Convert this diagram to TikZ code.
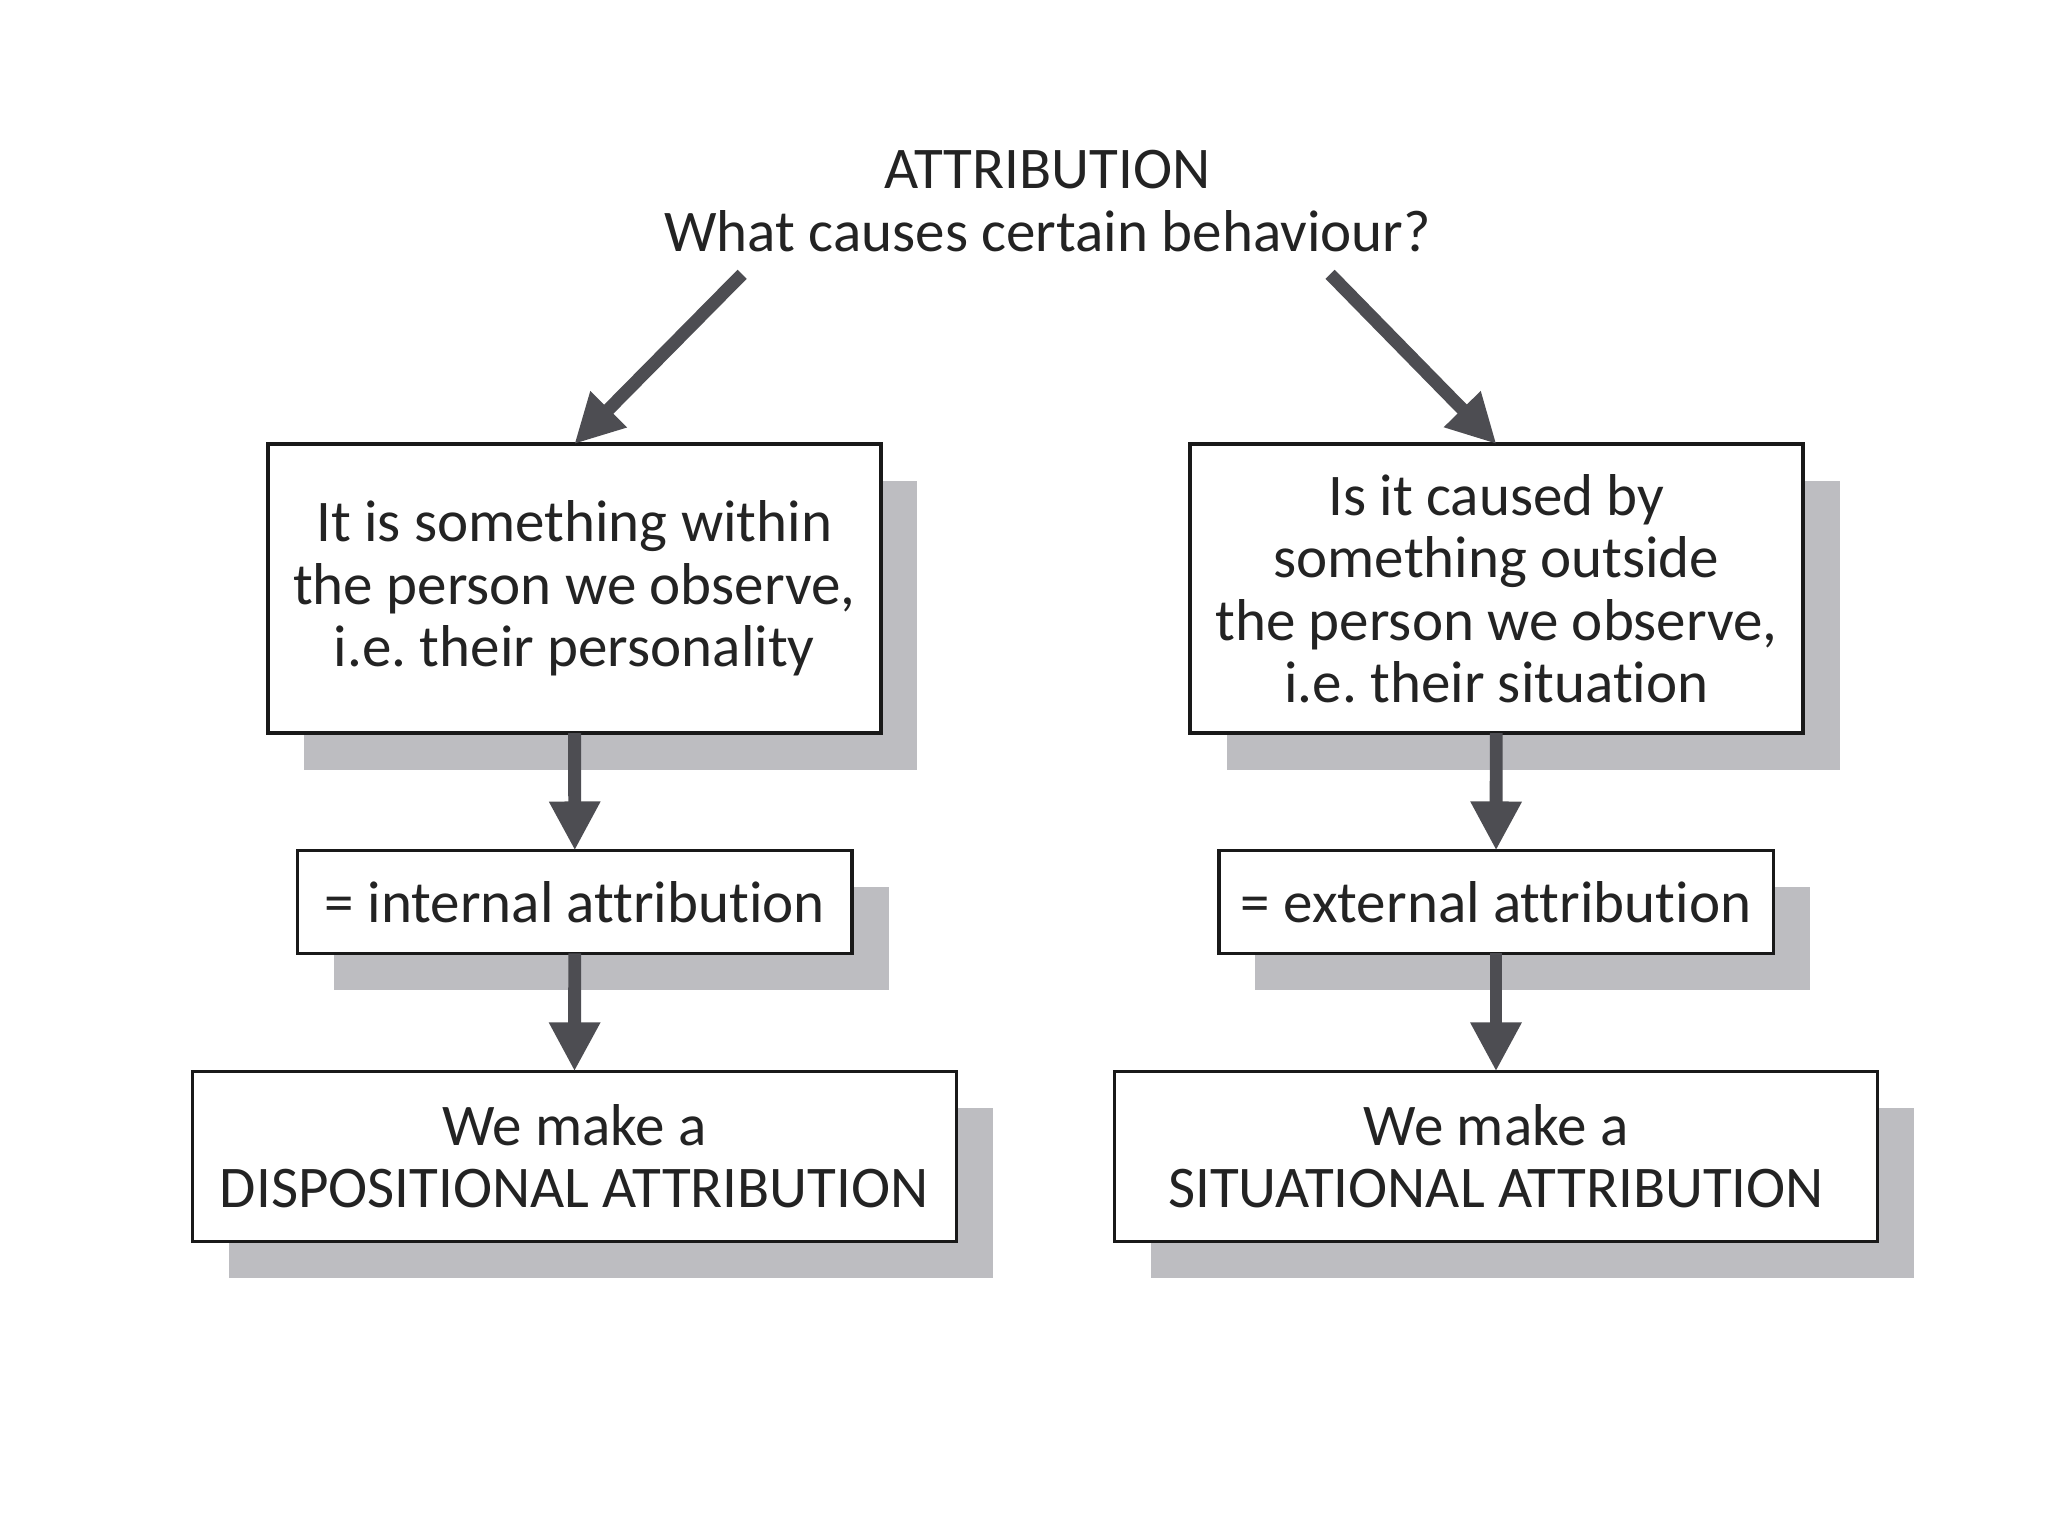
\documentclass[tikz,border=0pt]{standalone}
\usepackage{fontspec}
\setmainfont{Carlito}[Ligatures={NoCommon,NoRequired,NoContextual}]
\usetikzlibrary{arrows.meta,shadows}
\definecolor{shadowgray}{RGB}{189,189,193}
\definecolor{arrowgray}{RGB}{77,77,82}
\definecolor{textgray}{RGB}{35,35,35}
\frenchspacing
\begin{document}
\begin{tikzpicture}[
    >={Triangle[length=4.9mm, width=4.8mm]},
    every node/.style = {font=\fontsize{16.8}{17.8}\selectfont, text=textgray},
    box/.style = {draw=black!90, line width=1pt, fill=white, align=center,
              inner sep=0pt, outer sep=0pt,
              drop shadow={shadow xshift=0.366cm, shadow yshift=-0.366cm,
                           fill=shadowgray, opacity=1}},
    flow/.style = {->, arrowgray, line width=0.129cm},
    ]

\useasboundingbox[fill=white] (0,0) rectangle (20.48,15.36);

\node[align=center] (title) at (10.475,13.35)
    {ATTRIBUTION\\What causes certain behaviour?};
\coordinate (start_l) at (7.421,12.617);
\coordinate (start_r) at (13.301,12.617);

\node[box, minimum width=6.13cm, minimum height=2.89cm] (within_1) at (5.743,9.474)
    {It is something within\\the person we observe,\\i.e. their personality};
\node[box, minimum width=6.13cm, minimum height=2.89cm] (outside_1) at (14.965,9.474)
    {Is it caused by\\something outside\\the person we observe,\\i.e. their situation};

\node[box, minimum width=5.545cm, minimum height=1.03cm] (within_2) at (5.749,6.34)
    {= internal attribution};
\node[box, minimum width=5.545cm, minimum height=1.03cm] (outside_2) at (14.96,6.34)
    {= external attribution};

\node[box, minimum width=7.64cm, minimum height=1.70cm] (within_3) at (5.743,3.796)
    {We make a\\DISPOSITIONAL ATTRIBUTION};
\node[box, minimum width=7.63cm, minimum height=1.70cm] (outside_3) at (14.96,3.796)
    {We make a\\SITUATIONAL ATTRIBUTION};

\draw [flow] (start_l) -- (within_1.north);
\draw [flow] (start_r) -- (outside_1.north);
\draw [flow] (within_1) -- (within_2);
\draw [flow] (within_2) -- (within_3);
\draw [flow] (outside_1) -- (outside_2);
\draw [flow] (outside_2) -- (outside_3);

\end{tikzpicture}
\end{document}
